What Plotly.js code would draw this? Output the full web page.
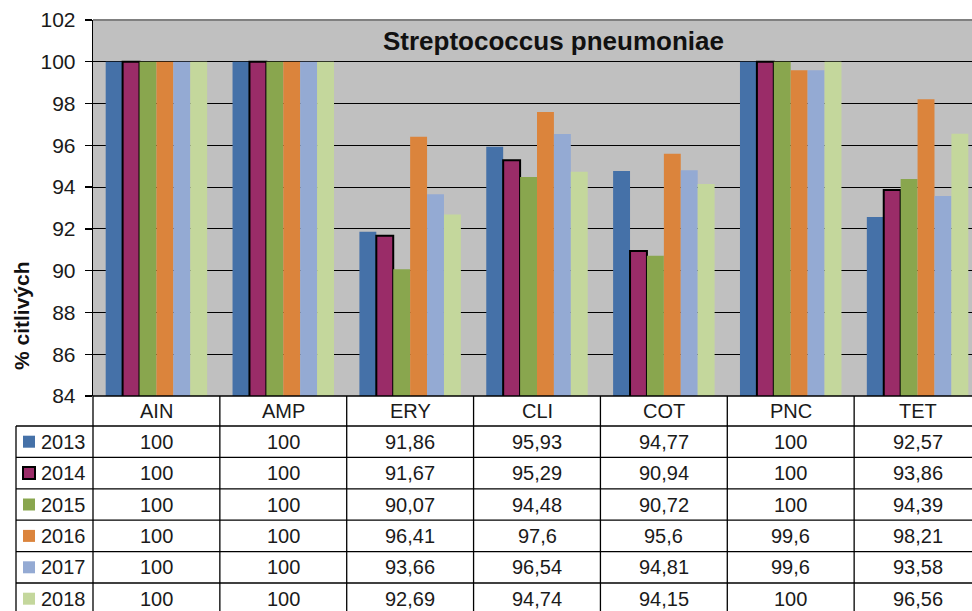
<!DOCTYPE html>
<html>
<head>
<meta charset="utf-8">
<script src="https://cdn.plot.ly/plotly-3.0.1.min.js"></script>
<style>
html,body{margin:0;padding:0;overflow:hidden;background:#fff;width:972px;height:611px;}
#chart{width:982px;height:611px;}
</style>
</head>
<body>
<div id="chart"></div>
<script>
// ---- data ----
var categories = ['AIN','AMP','ERY','CLI','COT','PNC','TET'];
var years = ['2013','2014','2015','2016','2017','2018'];
var v2013 = [100,100,91.86,95.93,94.77,100,92.57];
var v2014 = [100,100,91.67,95.29,90.94,100,93.86];
var v2015 = [100,100,90.07,94.48,90.72,100,94.39];
var v2016 = [100,100,96.41,97.6,95.6,99.6,98.21];
var v2017 = [100,100,93.66,96.54,94.81,99.6,93.58];
var v2018 = [100,100,92.69,94.74,94.15,100,96.56];
var yTicks = [84,86,88,90,92,94,96,98,100,102];
var chartTitle = 'Streptococcus pneumoniae';
var yTitle = '% citlivých';

var series = [v2013,v2014,v2015,v2016,v2017,v2018];
var colors = ['#4571A8','#9A2C68','#89A64E','#DB843C','#94AAD3','#C4D79C'];

// ---- geometry ----
var W = 982, H = 611, mt = 20, mb = 0, ml = 93, mr = 1;
var plotBottomPx = 396;
var ph = H - mt - mb;
function py(p){ return (H - mb - p) / ph; }       // pixel y -> paper y
function px(p){ return (p - ml) / (W - ml - mr); } // pixel x -> paper x
var headerTop = plotBottomPx, headerBot = 426, rowH = 31.4;
var tableLeftPx = 16;

var traces = series.map(function(vals, i){
  return {
    type: 'bar', name: years[i], x: categories, y: vals,
    marker: {color: colors[i], line: {color: i === 1 ? '#000' : colors[i], width: i === 1 ? 2 : 0}},
    hoverinfo: 'x+y+name'
  };
});

var shapes = [], annotations = [];
var lineStyle = {color: '#000', width: 1.3};
var rowTops = years.map(function(_, r){ return headerBot + r * rowH; });
var tableBottom = headerBot + years.length * rowH;

// horizontal table lines
shapes.push({type:'line', xref:'paper', yref:'paper', x0:0, x1:1.02, y0:py(headerTop), y1:py(headerTop), line:lineStyle});
rowTops.forEach(function(t){
  shapes.push({type:'line', xref:'paper', yref:'paper', x0:px(tableLeftPx), x1:1.02, y0:py(t), y1:py(t), line:lineStyle});
});
// vertical table lines
shapes.push({type:'line', xref:'paper', yref:'paper', x0:px(tableLeftPx), x1:px(tableLeftPx), y0:py(headerBot), y1:py(tableBottom), line:lineStyle});
shapes.push({type:'line', xref:'paper', yref:'paper', x0:0, x1:0, y0:py(headerTop), y1:py(tableBottom), line:lineStyle});
for (var c = 1; c < categories.length; c++) {
  shapes.push({type:'line', xref:'x', yref:'paper', x0:c-0.5, x1:c-0.5, y0:py(headerTop), y1:py(tableBottom), line:lineStyle});
}
// plot top border
shapes.push({type:'line', xref:'paper', yref:'paper', x0:0, x1:1.02, y0:1, y1:1, line:{color:'#808080', width:2}});

var tf = {family:'Liberation Sans, Arial, sans-serif', size:20, color:'#1a1a1a'};
// header
categories.forEach(function(cat){
  annotations.push({xref:'x', yref:'paper', x:cat, y:py((headerTop+headerBot)/2), text:cat, showarrow:false, font:tf, xanchor:'center', yanchor:'middle'});
});
// rows
years.forEach(function(yr, r){
  var cy = rowTops[r] + rowH/2;
  // legend key
  shapes.push({type:'rect', xref:'paper', yref:'paper', x0:px(23), x1:px(35), y0:py(cy-6), y1:py(cy+6),
    fillcolor: colors[r], line:{color: r === 1 ? '#000' : colors[r], width: r === 1 ? 2 : 0}});
  annotations.push({xref:'paper', yref:'paper', x:px(39), y:py(cy), text:yr, showarrow:false, font:tf, xanchor:'left', yanchor:'middle'});
  series[r].forEach(function(v, c){
    annotations.push({xref:'x', yref:'paper', x:categories[c], y:py(cy), text:String(v).replace('.', ','), showarrow:false, font:tf, xanchor:'center', yanchor:'middle'});
  });
});
// chart title
annotations.push({xref:'paper', yref:'paper', x:px(553), y:py(41), text:'<b>' + chartTitle + '</b>', showarrow:false,
  font:{family:'Liberation Sans, Arial, sans-serif', size:26, color:'#111'}, xanchor:'center', yanchor:'middle'});
// y title
annotations.push({xref:'paper', yref:'paper', x:px(21), y:py(316), text:'<b>' + yTitle + '</b>', showarrow:false, textangle:-90,
  font:{family:'Liberation Sans, Arial, sans-serif', size:21, color:'#111'}, xanchor:'center', yanchor:'middle'});

var layout = {
  width: W, height: H,
  margin: {l: ml, r: mr, t: mt, b: mb, pad: 0},
  paper_bgcolor: '#fff', plot_bgcolor: '#C0C0C0',
  showlegend: false,
  barmode: 'group', bargap: 0.2, bargroupgap: 0,
  xaxis: {type:'category', range:[-0.5, categories.length-0.5], showticklabels:false, ticks:'', showgrid:false, zeroline:false, showline:false, fixedrange:true},
  yaxis: {domain:[py(plotBottomPx), 1], range:[84,102], tickvals:yTicks, ticktext:yTicks.map(String),
    showgrid:true, gridcolor:'#000', gridwidth:1, zeroline:false,
    showline:true, linecolor:'#000', linewidth:1.3, ticks:'outside', ticklen:7, tickcolor:'#000', tickwidth:1.3,
    tickfont:{family:'Liberation Sans, Arial, sans-serif', size:21, color:'#1a1a1a'}, ticklabelstandoff:5, fixedrange:true},
  shapes: shapes,
  annotations: annotations
};

Plotly.newPlot('chart', traces, layout, {displayModeBar:false, staticPlot:true});
</script>
</body>
</html>
